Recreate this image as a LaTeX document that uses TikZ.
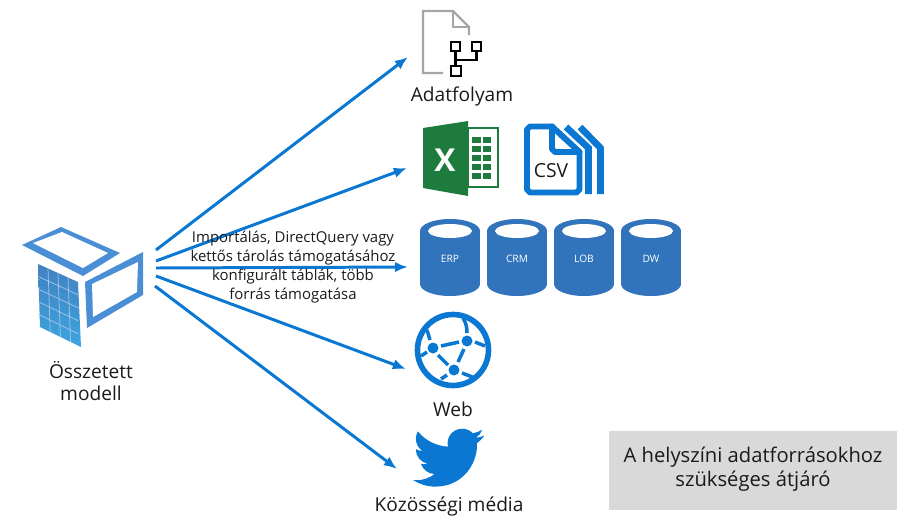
\documentclass[tikz,border=0pt]{standalone}
\usepackage{fontspec}
\setmainfont{Open Sans}
\usetikzlibrary{arrows.meta}

\definecolor{arrowblue}{HTML}{0A78D2}
\definecolor{panelblue}{HTML}{4A8FD6}
\definecolor{dbblue}{HTML}{3274BB}
\definecolor{xlgreen}{HTML}{1E7B3E}
\definecolor{textgray}{HTML}{1A1A1A}
\definecolor{boxgray}{HTML}{D9D9D9}

\tikzset{
  flow/.style={arrowblue,line width=1.7pt,-{Latex[length=7.5pt,width=6pt]}},
  label/.style={text=textgray,font=\fontsize{10.9pt}{12.6pt}\selectfont,align=center,inner sep=0pt},
  small/.style={text=textgray,font=\fontsize{8.5pt}{10.8pt}\selectfont,align=center,inner sep=0pt},
  dbtext/.style={text=white,font=\fontsize{5.8pt}{7pt}\selectfont,inner sep=0pt},
  pagejoin/.style={line cap=round,line join=round},
  webline/.style={arrowblue,line width=2pt}
}

\begin{document}
\begin{tikzpicture}[x=0.02cm,y=-0.02cm]
\useasboundingbox (0,0) rectangle (918,528);

% model icon

\fill[panelblue] (22,245) -- (61,227) -- (120,253) -- (83,276) -- cycle;
\fill[white] (33,243) -- (62,232) -- (108,253) -- (83,268) -- cycle;

\shade[top color=panelblue!90!black,bottom color=panelblue!80!cyan] (38,264) -- (78,282) -- (81,347) -- (40,327) -- cycle;
\foreach \i in {1,2,3}
{
  \draw[white!50!panelblue,line width=0.4pt] (38+\i*10,264+\i*4.5) -- (40+\i*10.2,327+\i*5);
}
\foreach \i in {1,2,3,4}
{
  \draw[white!50!panelblue,line width=0.4pt] (38.5,264+\i*12.6) -- (78.6,282+\i*13);
}

\fill[panelblue] (85,282) -- (143,252) -- (143,295) -- (87,328) -- cycle;
\fill[white] (92,284) -- (138,262) -- (137,292) -- (93,317) -- cycle;

\node[label] (model) at (91,381) {Összetett\\modell};

% connectors

\coordinate (m1) at (156,250);
\coordinate (m2) at (156,261);
\coordinate (m3) at (156,268);
\coordinate (m4) at (156,276);
\coordinate (m5) at (155,286);

\coordinate (t1) at (408,57);
\coordinate (t2) at (407,168);
\coordinate (t3) at (408,267);
\coordinate (t4) at (406,369);
\coordinate (t5) at (397,469);

\foreach \i in {1,...,5}
{
  \draw[flow] (m\i) -- (t\i);
}

\node[small] (note) at (293,267.5) {Importálás, DirectQuery vagy\\kettős tárolás támogatásához\\konfigurált táblák, több\\forrás támogatása};

% dataflow icon

\draw[gray!70,line width=1.4pt] (443,73) -- (423,73) -- (423,11) -- (453,11) -- (469,27) -- (469,35);
\draw[gray!70,line width=1.4pt] (453,11) -- (453,27) -- (469,27);

\draw[black,line width=1.5pt] (451,42) rectangle (460,51);
\draw[black,line width=1.5pt] (472,42) rectangle (481,51);
\draw[black,line width=1.5pt] (451,66) rectangle (461,76);
\draw[black,line width=1.5pt] (455.5,51) -- (455.5,66);
\draw[black,line width=1.5pt] (476.5,51) -- (476.5,60) -- (455.5,60);

\node[label] (dataflow) at (462,96) {Adatfolyam};

% excel icon

\fill[white] (468,128) rectangle (498,187);
\draw[xlgreen,line width=0.8pt] (468,128) rectangle (498,187);
\foreach \i in {0,...,4}
{
  \fill[xlgreen] (472,136.5+\i*9) rectangle (480.5,142.5+\i*9);
  \fill[xlgreen] (482.5,136.5+\i*9) rectangle (490.5,142.5+\i*9);
}
\fill[xlgreen] (423,128) -- (468,121) -- (468,196) -- (423,188) -- cycle;
\node[text=white,font=\fontsize{18pt}{18pt}\bfseries\selectfont,inner sep=0pt] (excel) at (445,160) {X};

% csv icon

\draw[arrowblue,line width=3.8pt] (566,127) -- (588.5,148) -- (588.5,194);
\draw[arrowblue,line width=3.8pt] (580,127) -- (600.5,148) -- (600.5,194);
\draw[arrowblue,line width=3.4pt,pagejoin,fill=white] (552,126.5) -- (530,126.5) -- (527,129.5) -- (527,189.5) -- (530,192.5) -- (576.5,192.5) -- (579.5,189.5) -- (579.5,152) -- cycle;
\draw[arrowblue,line width=3.4pt,pagejoin] (552,126.5) -- (552,149) -- (555,152) -- (579.5,152);
\node[text=textgray,font=\fontsize{11pt}{11pt}\selectfont,inner sep=0pt] (csv) at (551,171) {CSV};

% databases

\foreach \x/\t in {450/ERP,517/CRM,584/LOB,651/DW}
{
  \fill[dbblue] (\x,231) ellipse[x radius=30,y radius=12];
  \fill[dbblue] (\x,284) ellipse[x radius=30,y radius=12];
  \fill[dbblue] (\x-30,231) rectangle (\x+30,284);
  \fill[white] (\x,231) ellipse[x radius=22,y radius=7];
  \node[dbtext] (db\t) at (\x,259) {\t};
}

% web icon

\draw[arrowblue,line width=3.2pt] (453,350) circle[radius=35.5];
\fill[arrowblue] (433,348) circle[radius=5.5];
\fill[arrowblue] (467,341) circle[radius=5.5];
\fill[arrowblue] (454,370) circle[radius=5.5];
\draw[webline] (441,346) -- (459,342);
\draw[webline] (438,355) -- (448,365);
\draw[webline] (464,349) -- (458,362);
\draw[webline] (427,352) -- (421,356);
\draw[webline] (430,340) -- (427,330);
\draw[webline] (467,333) .. controls (467,327) and (466,323) .. (463,318);
\draw[webline] (475,342) -- (485,346);
\draw[webline] (447,375) -- (441,379);
\draw[webline] (462,373) -- (475,378);

\node[label] (web) at (453,409) {Web};

% twitter icon

\begin{scope}[shift={(413,422)},x=0.0594cm,y=-0.0594cm]
\fill[arrowblue] (23.953,4.57) .. controls (23.07,4.96) and (22.12,5.23) .. (21.128,5.345)
  .. controls (22.15,4.73) and (22.92,3.75) .. (23.291,2.622)
  .. controls (22.34,3.177) and (21.286,3.581) .. (20.164,3.806)
  .. controls (19.27,2.85) and (17.97,2.25) .. (16.54,2.25)
  .. controls (13.36,2.25) and (11.0,5.23) .. (11.78,8.288)
  .. controls (7.69,8.095) and (4.067,6.13) .. (1.64,3.162)
  .. controls (1.22,3.89) and (.974,4.73) .. (.974,5.637)
  .. controls (.974,7.347) and (1.844,8.85) .. (3.162,9.733)
  .. controls (2.35,9.71) and (1.58,9.49) .. (.934,9.117)
  -- (.934,9.177)
  .. controls (.934,11.56) and (2.63,13.55) .. (4.88,14.004)
  .. controls (4.16,14.2) and (3.4,14.23) .. (2.668,14.089)
  .. controls (3.3,16.05) and (5.12,17.47) .. (7.272,17.506)
  .. controls (5.58,18.83) and (3.46,19.61) .. (1.17,19.611)
  .. controls (.78,19.611) and (.391,19.588) .. (0,19.544)
  .. controls (2.18,20.94) and (4.77,21.753) .. (7.557,21.753)
  .. controls (16.61,21.753) and (21.555,14.257) .. (21.555,7.768)
  .. controls (21.555,7.558) and (21.555,7.348) .. (21.54,7.138)
  .. controls (22.5,6.44) and (23.34,5.58) .. (24,4.59) -- cycle;
\end{scope}

\node[label] (social) at (449,506) {Közösségi média};

% gateway box

\fill[boxgray] (609,431) rectangle (897,510);
\node[label,font=\fontsize{11.5pt}{13.6pt}\selectfont] (gateway) at (753,469) {A helyszíni adatforrásokhoz\\szükséges átjáró};

\end{tikzpicture}
\end{document}
